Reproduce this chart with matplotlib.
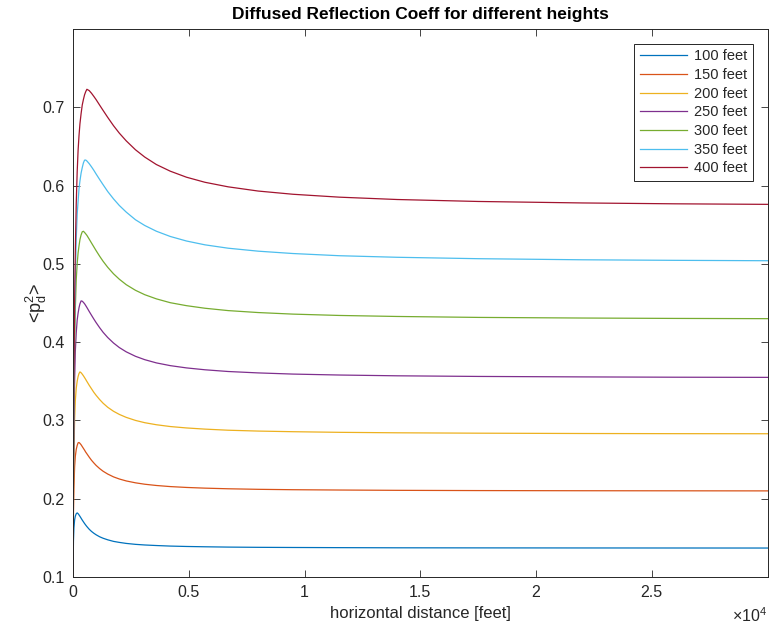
import matplotlib
matplotlib.use("Agg")
import matplotlib.pyplot as plt
from matplotlib.ticker import FuncFormatter

plt.rcParams['font.family'] = ['Liberation Sans', 'DejaVu Sans']
plt.rcParams['mathtext.fontset'] = 'custom'
plt.rcParams['mathtext.rm'] = 'Liberation Sans'

# horizontal distance [feet]
dist = [0, 20, 40, 70, 100, 140, 180, 220, 260, 300, 350, 400, 450, 500, 550,
        600, 700, 800, 900, 1000, 1150, 1300, 1500, 1750, 2000, 2300, 2700,
        3100, 3600, 4200, 4900, 5700, 6700, 8000, 9500, 11500, 14000, 17500,
        22000, 26000, 30000]

h100 = [0.100, 0.1463, 0.1627, 0.173, 0.1777, 0.1808, 0.1819, 0.1809, 0.1793,
        0.1775, 0.1751, 0.1727, 0.1705, 0.1683, 0.1663, 0.1644, 0.161, 0.1582,
        0.1559, 0.1539, 0.1514, 0.1495, 0.1475, 0.1455, 0.1442, 0.1429, 0.1417,
        0.1409, 0.1402, 0.1395, 0.139, 0.1386, 0.1382, 0.1379, 0.1377, 0.1375,
        0.1373, 0.1372, 0.1371, 0.13705, 0.137]
h150 = [0.100, 0.181, 0.214, 0.241, 0.254, 0.263, 0.268, 0.2714, 0.2718, 0.2707,
        0.2689, 0.2666, 0.2643, 0.262, 0.2595, 0.2574, 0.2531, 0.2491, 0.2457,
        0.2425, 0.2385, 0.2351, 0.2315, 0.2279, 0.2252, 0.2227, 0.2203, 0.2185,
        0.2169, 0.2155, 0.2144, 0.2135, 0.2127, 0.212, 0.2115, 0.2111, 0.2107,
        0.2104, 0.2102, 0.2101, 0.210]
h200 = [0.100, 0.207, 0.259, 0.302, 0.325, 0.341, 0.350, 0.356, 0.360, 0.362,
        0.3609, 0.3591, 0.357, 0.3547, 0.3523, 0.3498, 0.3449, 0.3404, 0.3359,
        0.332, 0.3267, 0.322, 0.3168, 0.3117, 0.3077, 0.3039, 0.300, 0.2971,
        0.2945, 0.2922, 0.2904, 0.2889, 0.2875, 0.2864, 0.2856, 0.2848, 0.2842,
        0.2837, 0.2833, 0.2831, 0.283]
h250 = [0.100, 0.224, 0.294, 0.352, 0.388, 0.412, 0.428, 0.437, 0.444, 0.449,
        0.4527, 0.4523, 0.4508, 0.449, 0.4467, 0.4443, 0.4392, 0.4343, 0.4295,
        0.4249, 0.4185, 0.4126, 0.4059, 0.3989, 0.3931, 0.3876, 0.3819, 0.3776,
        0.3735, 0.370, 0.3671, 0.3647, 0.3625, 0.3607, 0.3592, 0.358, 0.357,
        0.3562, 0.3556, 0.3552, 0.355]
h300 = [0.100, 0.241, 0.325, 0.398, 0.443, 0.480, 0.500, 0.514, 0.523, 0.531,
        0.537, 0.541, 0.5416, 0.5401, 0.5383, 0.5364, 0.5316, 0.5266, 0.5217,
        0.5168, 0.5098, 0.5033, 0.4956, 0.4873, 0.4804, 0.4734, 0.4662, 0.4606,
        0.4553, 0.4504, 0.4466, 0.4433, 0.4403, 0.4378, 0.4358, 0.4341, 0.4328,
        0.4316, 0.4308, 0.4303, 0.430]
h350 = [0.100, 0.239, 0.337, 0.425, 0.481, 0.532, 0.563, 0.580, 0.596, 0.606,
        0.616, 0.623, 0.629, 0.6325, 0.6326, 0.6314, 0.628, 0.6239, 0.6195,
        0.6147, 0.6078, 0.6011, 0.5924, 0.583, 0.5746, 0.5661, 0.5563, 0.549,
        0.5417, 0.535, 0.5292, 0.5243, 0.520, 0.5162, 0.5132, 0.5104, 0.5084,
        0.5066, 0.5052, 0.5045, 0.504]
h400 = [0.100, 0.243, 0.349, 0.452, 0.517, 0.577, 0.617, 0.645, 0.664, 0.679,
        0.692, 0.703, 0.710, 0.716, 0.720, 0.723, 0.7213, 0.7179, 0.7139, 0.7097,
        0.7028, 0.696, 0.6871, 0.6765, 0.667, 0.6571, 0.6457, 0.6364, 0.6269,
        0.6184, 0.6107, 0.6042, 0.5984, 0.5930, 0.5889, 0.5852, 0.5822, 0.5797,
        0.5778, 0.5767, 0.576]

labels = ['100 feet', '150 feet', '200 feet', '250 feet', '300 feet', '350 feet', '400 feet']
series = [h100, h150, h200, h250, h300, h350, h400]
colors = ['#0072BD', '#D95319', '#EDB120', '#7E2F8E', '#77AC30', '#4DBEEE', '#A2142F']

txt = '#262626'
fig = plt.figure(figsize=(7.69, 6.28), dpi=100)
ax = fig.add_axes([73 / 769, 51 / 628, 694.5 / 769, 548 / 628])

for y, lab, c in zip(series, labels, colors):
    ax.plot(dist, y, color=c, linewidth=0.9, label=lab)

ax.set_xlim(0, 30000)
ax.set_ylim(0.1, 0.8)
ax.set_xticks([0, 5000, 10000, 15000, 20000, 25000])
ax.xaxis.set_major_formatter(FuncFormatter(lambda v, p: f'{v / 1e4:g}'))
ax.set_yticks([0.1, 0.2, 0.3, 0.4, 0.5, 0.6, 0.7])
ax.yaxis.set_major_formatter(FuncFormatter(lambda v, p: f'{v:g}'))
ax.tick_params(direction='in', length=5, width=0.6, top=True, right=True,
               labelsize=11.5, colors=txt, pad=6)
for s in ax.spines.values():
    s.set_color(txt)
    s.set_linewidth(0.7)

ax.text(0.999, -0.088, r'$\times\mathregular{10^4}$', transform=ax.transAxes,
        ha='right', va='bottom', fontsize=11.5, color=txt)
ax.set_xlabel('horizontal distance [feet]', fontsize=12, color=txt, labelpad=4)
ax.set_ylabel(r'<p$\mathregular{_d^2}$>', fontsize=13, color=txt, labelpad=-5)
ax.set_title('Diffused Reflection Coeff for different heights', fontsize=12.5,
             fontweight='bold', color='black', pad=7)

leg = ax.legend(loc='upper right', fontsize=10.5, handlelength=3.2,
                fancybox=False, framealpha=1, edgecolor=txt,
                borderaxespad=1.0, labelspacing=0.32, handletextpad=0.5)
leg.get_frame().set_linewidth(0.7)
for t in leg.get_texts():
    t.set_color(txt)

fig.savefig('out.png', dpi=100)
